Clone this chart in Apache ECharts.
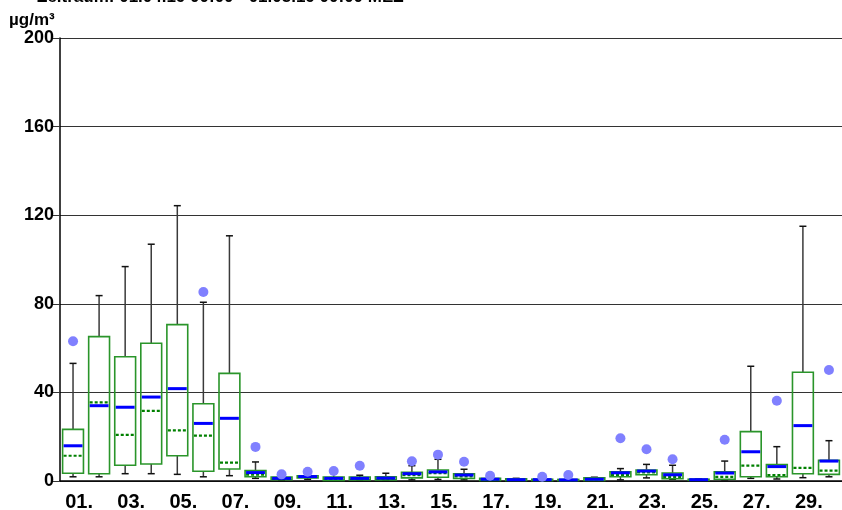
<!DOCTYPE html>
<html>
<head>
<meta charset="utf-8">
<title>Tagesverteilung</title>
<script src="https://cdn.jsdelivr.net/npm/echarts@6/dist/echarts.min.js"></script>
<style>
  html, body { margin: 0; padding: 0; background: #fff; }
  #chart { width: 842px; height: 510px; }
</style>
</head>
<body>
<div id="chart"></div>
<script>
// Tage
const days = ['01.', '02.', '03.', '04.', '05.', '06.', '07.', '08.', '09.', '10.',
  '11.', '12.', '13.', '14.', '15.', '16.', '17.', '18.', '19.', '20.',
  '21.', '22.', '23.', '24.', '25.', '26.', '27.', '28.', '29.', '30.']

// Box-Werte je Tag (µg/m³)
const whiskerLow = [1.9, 1.9, 3.3, 3.3, 3.0, 1.9, 2.4, 1.2, 0.3, 0.8,
  0.2, 0.3, 0.3, 0.5, 0.7, 0.5, 0.1, 0.1, 0.1, 0.1,
  0.1, 0.5, 1.4, 0.8, 0.1, 0.5, 1.2, 0.9, 1.5, 1.9]
const q1 = [3.5, 3.3, 7.1, 7.7, 11.4, 4.4, 5.4, 1.9, 0.6, 1.4,
  0.3, 0.5, 0.5, 1.4, 1.7, 1.1, 0.3, 0.2, 0.2, 0.2,
  0.2, 1.9, 2.8, 1.0, 0.3, 0.8, 1.9, 1.9, 3.3, 3.0]
const median = [11.4, 35.5, 20.8, 31.7, 22.9, 20.5, 8.3, 2.9, 1.0, 1.8,
  0.9, 1.0, 1.1, 2.6, 3.5, 2.1, 0.6, 0.5, 0.5, 0.4,
  0.7, 2.8, 3.9, 1.9, 0.5, 1.9, 6.9, 2.7, 5.9, 4.7]
const mean = [15.9, 34.0, 33.3, 37.9, 41.7, 26.0, 28.3, 3.8, 1.2, 2.0,
  1.2, 1.2, 1.3, 3.3, 4.1, 2.7, 0.8, 0.6, 0.6, 0.5,
  0.8, 3.7, 4.5, 2.8, 0.6, 3.6, 13.2, 6.5, 25.0, 9.0]
const q3 = [23.3, 65.2, 56.1, 62.2, 70.6, 34.9, 48.6, 4.7, 1.8, 2.4,
  1.8, 1.8, 1.9, 3.9, 5.0, 3.2, 1.2, 1.0, 0.8, 0.7,
  1.4, 4.1, 5.0, 3.6, 0.8, 4.1, 22.3, 7.4, 49.1, 9.3]
const whiskerHigh = [53.1, 83.7, 96.8, 106.9, 124.3, 80.7, 110.7, 8.6, 2.0, 3.5,
  3.5, 2.6, 3.5, 6.9, 9.8, 5.3, 1.6, 1.2, 1.5, 1.0,
  1.7, 5.6, 7.5, 7.1, 0.9, 9.0, 51.8, 15.5, 115.0, 18.2]
// Maximum (Ausreißer), null = keiner
const maxValue = [63.1, null, null, null, null, 85.3, null, 15.4, 3.0, 4.2,
  4.5, 6.9, null, 8.9, 11.9, 8.7, 2.4, null, 1.9, 2.7,
  null, 19.3, 14.3, 9.8, null, 18.6, null, 36.2, null, 50.1]

// y-Achse
const yTicks = [0, 40, 80, 120, 160, 200]

const boxData = days.map((d, i) => [i, whiskerLow[i], q1[i], median[i], mean[i], q3[i], whiskerHigh[i]])
const dotData = maxValue.map((v, i) => (v == null ? null : [i, v])).filter(Boolean)

const FONT = 'Liberation Sans, Arial, sans-serif'

// Box zeichnen
function renderBox(params, api) {
  const i = api.value(0)
  const cx = api.coord([i, 0])[0]
  const half = api.size([1, 0])[0] * 0.4
  const cap = 3.5
  const y = (v) => api.coord([i, v])[1]
  const lo = y(api.value(1))
  const b1 = y(api.value(2))
  const med = y(api.value(3))
  const mn = y(api.value(4))
  const b3 = y(api.value(5))
  const hi = y(api.value(6))
  const whisker = { stroke: '#3a3a3a', lineWidth: 1.5 }
  return {
    type: 'group',
    children: [
      { type: 'line', shape: { x1: cx, y1: hi, x2: cx, y2: b3 }, style: whisker },
      { type: 'line', shape: { x1: cx, y1: b1, x2: cx, y2: lo }, style: whisker },
      { type: 'line', shape: { x1: cx - cap, y1: hi, x2: cx + cap, y2: hi }, style: { stroke: '#111', lineWidth: 1.5 } },
      { type: 'line', shape: { x1: cx - cap, y1: lo, x2: cx + cap, y2: lo }, style: { stroke: '#111', lineWidth: 1.5 } },
      { type: 'rect', shape: { x: cx - half, y: b3, width: half * 2, height: b1 - b3 },
        style: { fill: 'none', stroke: '#2a952a', lineWidth: 1.6 } },
      { type: 'line', shape: { x1: cx - half + 1, y1: med, x2: cx + half - 1, y2: med },
        style: { stroke: '#008000', lineWidth: 2.2, lineDash: [3, 2] } },
      { type: 'line', shape: { x1: cx - half + 1, y1: mn, x2: cx + half - 1, y2: mn },
        style: { stroke: '#0000ff', lineWidth: 3 } }
    ]
  }
}

const chart = echarts.init(document.getElementById('chart'))
chart.setOption({
  animation: false,
  backgroundColor: '#fff',
  graphic: [
    { type: 'text', left: 37, top: -11,
      style: { text: 'Zeitraum: 01.04.19 00:00 - 01.05.19 00:00 MEZ', font: 'bold 17px ' + FONT, fill: '#000' } },
    { type: 'text', left: 9, top: 12,
      style: { text: 'µg/m³', font: 'bold 17px ' + FONT, fill: '#000' } }
  ],
  grid: { left: 60, right: 0, top: 38, bottom: 29, containLabel: false, outerBoundsMode: 'none' },
  xAxis: {
    type: 'category',
    data: days,
    boundaryGap: true,
    axisLine: { lineStyle: { color: '#000', width: 1.5 } },
    axisTick: { alignWithLabel: true, interval: 0, length: 10, lineStyle: { color: '#444', width: 1.5 } },
    axisLabel: { interval: 1, margin: 11, color: '#000', fontWeight: 'bold', fontSize: 20,
      fontFamily: FONT, padding: [0, 0, 0, 12] },
    splitLine: { show: false }
  },
  yAxis: {
    type: 'value',
    min: yTicks[0],
    max: yTicks[yTicks.length - 1],
    interval: yTicks[1] - yTicks[0],
    axisLine: { show: true, lineStyle: { color: '#000', width: 1.5 } },
    axisTick: { show: true, length: 7, lineStyle: { color: '#333' } },
    axisLabel: { margin: 6, color: '#000', fontWeight: 'bold', fontSize: 18, fontFamily: FONT },
    splitLine: { show: true, lineStyle: { color: '#333', width: 1 } }
  },
  series: [
    {
      type: 'custom',
      renderItem: renderBox,
      encode: { x: 0, y: [1, 2, 3, 4, 5, 6] },
      data: boxData,
      z: 2
    },
    {
      type: 'scatter',
      data: dotData,
      symbol: 'circle',
      symbolSize: 10,
      itemStyle: { color: '#8080ff', opacity: 1 },
      z: 3
    }
  ]
})
</script>
</body>
</html>
